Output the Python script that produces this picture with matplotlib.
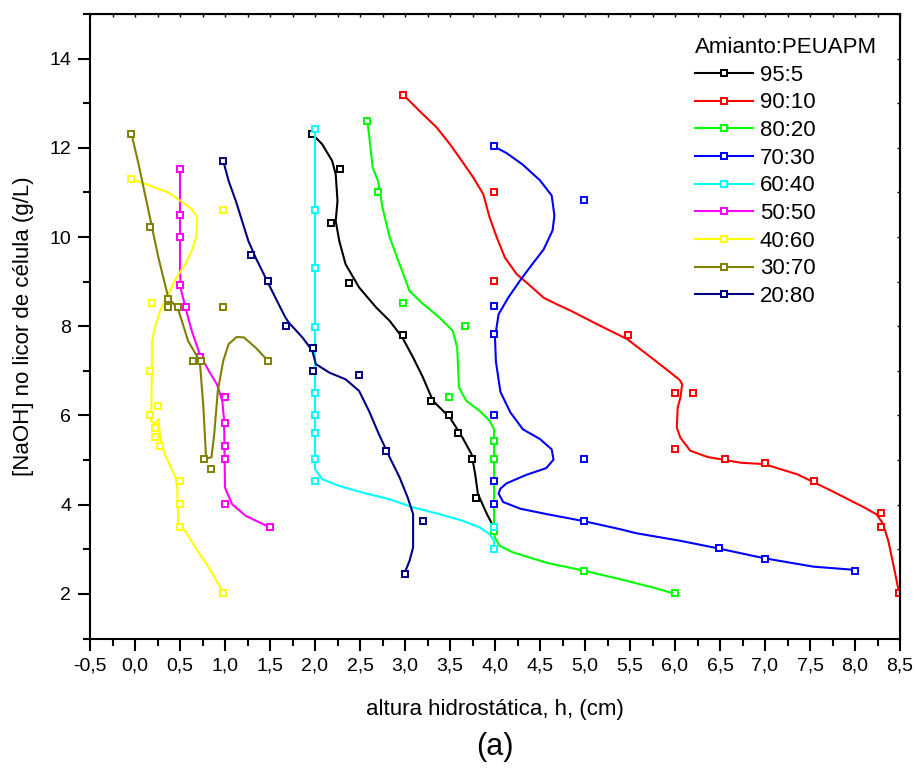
import matplotlib
matplotlib.use("Agg")
import matplotlib.pyplot as plt
from matplotlib.lines import Line2D
from matplotlib.ticker import MultipleLocator, FuncFormatter

plt.rcParams['font.family'] = ['Liberation Sans', 'DejaVu Sans']

series_names = ["95:5", "90:10", "80:20", "70:30", "60:40", "50:50", "40:60", "30:70", "20:80"]
series_colors = ["#000000", "#FF0000", "#00FF00", "#0000FF", "#00FFFF",
                 "#FF00FF", "#FFFF00", "#808000", "#000080"]

# measured points (altura h in cm, [NaOH] in g/L)
pts_95_5_h = [1.97, 2.28, 2.18, 2.38, 2.98, 3.29, 3.49, 3.59, 3.74, 3.79]
pts_95_5_c = [12.31, 11.52, 10.31, 8.97, 7.80, 6.33, 6.01, 5.60, 5.02, 4.16]
pts_90_10_h = [2.98, 3.99, 3.99, 5.48, 6.0, 6.2, 6.0, 6.56, 7.0, 7.54, 8.29, 8.29, 8.49]
pts_90_10_c = [13.19, 11.01, 9.02, 7.80, 6.50, 6.50, 5.24, 5.02, 4.93, 4.52, 3.81, 3.49, 2.02]
pts_80_20_h = [2.58, 2.70, 2.98, 3.67, 3.49, 3.99, 3.99, 3.99, 4.99, 6.0]
pts_80_20_c = [12.61, 11.01, 8.52, 8.0, 6.42, 5.43, 5.02, 3.41, 2.52, 2.02]
pts_70_30_h = [3.99, 4.99, 3.99, 3.99, 3.99, 4.99, 3.99, 3.99, 4.99, 6.49, 7.0, 8.0]
pts_70_30_c = [12.04, 10.82, 8.45, 7.82, 6.02, 5.02, 4.52, 4.02, 3.63, 3.02, 2.79, 2.52]
pts_60_40_h = [2.0, 2.0, 2.0, 2.0, 2.0, 2.0, 2.0, 2.0, 2.0, 3.99, 3.99]
pts_60_40_c = [12.42, 10.61, 9.30, 7.99, 6.50, 6.01, 5.60, 5.02, 4.53, 3.50, 3.0]
pts_50_50_h = [0.5, 0.5, 0.5, 0.5, 0.57, 0.72, 1.0, 1.0, 1.0, 1.0, 1.0, 1.5]
pts_50_50_c = [11.52, 10.49, 10.0, 8.93, 8.43, 7.31, 6.42, 5.83, 5.32, 5.02, 4.01, 3.50]
pts_40_60_h = [-0.04, 0.98, 0.19, 0.17, 0.26, 0.17, 0.22, 0.22, 0.28, 0.5, 0.5, 0.5, 0.98]
pts_40_60_c = [11.30, 10.61, 8.52, 7.0, 6.22, 6.01, 5.73, 5.52, 5.32, 4.53, 4.01, 3.50, 2.03]
pts_30_70_h = [-0.04, 0.17, 0.37, 0.37, 0.48, 0.98, 0.64, 0.73, 0.77, 0.84, 1.48]
pts_30_70_c = [12.32, 10.23, 8.61, 8.43, 8.43, 8.43, 7.22, 7.22, 5.02, 4.80, 7.22]
pts_20_80_h = [0.98, 1.29, 1.48, 1.68, 1.98, 1.98, 2.49, 2.79, 3.2, 3.0]
pts_20_80_c = [11.71, 9.60, 9.02, 8.01, 7.51, 7.0, 6.90, 5.21, 3.64, 2.44]

# smoothed trend curves
fit_95_5_h = [1.97, 2.08, 2.19, 2.23, 2.25, 2.23, 2.27, 2.34, 2.49, 2.68, 2.83, 2.97, 3.09,
              3.20, 3.31, 3.50, 3.64, 3.74, 3.78, 3.81, 3.91, 3.98]
fit_95_5_c = [12.31, 12.08, 11.71, 11.41, 10.81, 10.36, 9.91, 9.39, 8.87, 8.42, 8.12, 7.75, 7.30,
              6.85, 6.33, 5.95, 5.50, 5.13, 4.68, 4.24, 3.79, 3.52]
fit_90_10_h = [2.98, 3.18, 3.35, 3.50, 3.63, 3.76, 3.87, 3.94, 4.02, 4.11, 4.24, 4.39, 4.54,
               4.70, 4.84, 5.13, 5.47, 5.76, 5.95, 6.05, 6.08, 6.06, 6.03, 6.02, 6.06, 6.17,
               6.36, 6.73, 6.99, 7.36, 7.74, 8.11, 8.24, 8.31, 8.37, 8.44, 8.49]
fit_90_10_c = [13.19, 12.79, 12.46, 12.08, 11.71, 11.33, 10.96, 10.44, 9.99, 9.54, 9.17, 8.91, 8.64,
               8.48, 8.35, 8.05, 7.71, 7.26, 6.96, 6.80, 6.70, 6.40, 6.18, 5.73, 5.50, 5.21,
               5.07, 4.94, 4.91, 4.68, 4.31, 3.93, 3.78, 3.58, 3.19, 2.52, 2.02]
fit_80_20_h = [2.58, 2.60, 2.64, 2.70, 2.75, 2.83, 2.94, 3.05, 3.20, 3.38, 3.53, 3.58, 3.60,
               3.68, 3.83, 3.94, 3.99, 3.99, 4.0, 4.05, 4.20, 4.57, 4.99, 5.39, 5.76, 6.0]
fit_80_20_c = [12.61, 12.31, 11.56, 11.26, 10.66, 9.99, 9.39, 8.79, 8.50, 8.20, 7.90, 7.52, 6.63,
               6.33, 6.10, 5.88, 5.69, 3.34, 3.26, 3.08, 2.93, 2.70, 2.52, 2.33, 2.14, 2.0]
fit_70_30_h = [3.99, 4.13, 4.31, 4.50, 4.63, 4.66, 4.64, 4.54, 4.41, 4.28, 4.15, 4.04, 4.0, 4.01,
               4.06, 4.17, 4.31, 4.50, 4.63, 4.65, 4.57, 4.35, 4.13, 4.06, 4.04, 4.09, 4.28, 4.57,
               4.99, 5.39, 5.57, 6.06, 6.48, 6.99, 7.54, 7.99]
fit_70_30_c = [12.03, 11.88, 11.62, 11.27, 10.93, 10.48, 10.15, 9.72, 9.38, 9.03, 8.65, 8.27, 7.74,
               7.21, 6.53, 6.07, 5.69, 5.47, 5.24, 5.01, 4.82, 4.67, 4.48, 4.36, 4.25, 4.06, 3.91,
               3.79, 3.63, 3.45, 3.36, 3.19, 3.02, 2.80, 2.61, 2.54]
fit_60_40_h = [2.0, 2.0, 2.08, 2.27, 2.53, 2.83, 3.09, 3.38, 3.64, 3.83, 3.94, 3.99, 3.99]
fit_60_40_c = [12.42, 4.80, 4.57, 4.42, 4.27, 4.12, 3.94, 3.79, 3.64, 3.49, 3.34, 3.19, 3.0]
fit_50_50_h = [0.5, 0.5, 0.51, 0.56, 0.63, 0.72, 0.82, 0.91, 0.97, 0.99, 1.0, 1.08, 1.23, 1.49]
fit_50_50_c = [11.52, 9.24, 8.83, 8.42, 7.90, 7.37, 7.0, 6.70, 6.33, 5.88, 4.38, 4.01, 3.75, 3.50]
fit_40_60_h = [-0.04, 0.07, 0.22, 0.37, 0.48, 0.63, 0.69, 0.68, 0.63, 0.56, 0.46, 0.37, 0.28,
               0.22, 0.19, 0.18, 0.22, 0.26, 0.28, 0.33, 0.45, 0.47, 0.48, 0.56, 0.67, 0.82, 0.98]
fit_40_60_c = [11.30, 11.22, 11.11, 11.0, 10.85, 10.63, 10.44, 9.99, 9.69, 9.39, 9.09, 8.72, 8.35,
               7.97, 7.67, 5.88, 5.80, 5.92, 5.50, 5.13, 4.61, 4.38, 3.56, 3.41, 3.04, 2.59, 2.03]
fit_30_70_h = [-0.04, 0.04, 0.15, 0.26, 0.37, 0.48, 0.59, 0.72, 0.76, 0.79, 0.85, 0.88, 0.92,
               0.98, 1.04, 1.13, 1.21, 1.34, 1.48]
fit_30_70_c = [12.32, 11.63, 10.59, 9.54, 8.64, 8.38, 7.67, 7.22, 6.18, 5.04, 5.06, 5.58, 6.55,
               7.22, 7.60, 7.76, 7.75, 7.52, 7.22]
fit_20_80_h = [0.98, 1.04, 1.12, 1.19, 1.26, 1.34, 1.45, 1.56, 1.67, 1.71, 1.86, 1.97, 2.01,
               2.16, 2.34, 2.49, 2.60, 2.71, 2.83, 2.94, 3.03, 3.09, 3.09, 3.05, 2.99]
fit_20_80_c = [11.71, 11.26, 10.81, 10.36, 9.91, 9.54, 9.09, 8.64, 8.20, 8.08, 7.75, 7.45, 7.15,
               6.96, 6.81, 6.55, 6.10, 5.58, 5.06, 4.61, 4.16, 3.79, 3.04, 2.74, 2.44]

points = [(pts_95_5_h, pts_95_5_c), (pts_90_10_h, pts_90_10_c), (pts_80_20_h, pts_80_20_c),
          (pts_70_30_h, pts_70_30_c), (pts_60_40_h, pts_60_40_c), (pts_50_50_h, pts_50_50_c),
          (pts_40_60_h, pts_40_60_c), (pts_30_70_h, pts_30_70_c), (pts_20_80_h, pts_20_80_c)]
fits = [(fit_95_5_h, fit_95_5_c), (fit_90_10_h, fit_90_10_c), (fit_80_20_h, fit_80_20_c),
        (fit_70_30_h, fit_70_30_c), (fit_60_40_h, fit_60_40_c), (fit_50_50_h, fit_50_50_c),
        (fit_40_60_h, fit_40_60_c), (fit_30_70_h, fit_30_70_c), (fit_20_80_h, fit_20_80_c)]

fig = plt.figure(figsize=(9.16, 7.73), dpi=100)
ax = fig.add_axes([90 / 916, 1 - 638.5 / 773, 810 / 916, 624.5 / 773])

for (fh, fc), (ph, pc), col in zip(fits, points, series_colors):
    ax.plot(fh, fc, color=col, lw=1.5, solid_joinstyle='round')
    ax.plot(ph, pc, ls='none', marker='s', ms=4.5, mew=1.4, mec=col, mfc='white')

ax.set_xlim(-0.5, 8.5)
ax.set_ylim(1, 15)
ax.xaxis.set_major_locator(MultipleLocator(0.5))
ax.xaxis.set_minor_locator(MultipleLocator(0.25))
ax.yaxis.set_minor_locator(MultipleLocator(1))
ax.set_yticks([2, 4, 6, 8, 10, 12, 14])
ax.xaxis.set_major_formatter(FuncFormatter(lambda v, p: f"{v:.1f}".replace('.', ',')))
ax.yaxis.set_major_formatter(FuncFormatter(lambda v, p: f"{v:.0f}"))

for s in ax.spines.values():
    s.set_linewidth(1.5)
ax.tick_params(which='major', direction='out', length=8.5, width=1.5, labelsize=14, pad=5)
ax.tick_params(which='minor', direction='out', length=5, width=1.5)

top = ax.secondary_xaxis('top')
top.xaxis.set_major_locator(MultipleLocator(0.25))
top.tick_params(direction='in', length=2.5, width=1, labeltop=False)
right = ax.secondary_yaxis('right')
right.yaxis.set_major_locator(MultipleLocator(1))
right.tick_params(direction='in', length=2.5, width=1, labelright=False)

ax.set_xlabel("altura hidrostática, h, (cm)", fontsize=16, labelpad=18)
ax.set_ylabel("[NaOH] no licor de célula (g/L)", fontsize=16, labelpad=11)
fig.text(495 / 916, 1 - 747 / 773, "(a)", fontsize=22, ha='center', va='center')

handles = [Line2D([], [], color=c, lw=1.5, marker='s', ms=4.5, mew=1.4, mfc='white', mec=c)
           for c in series_colors]
leg = ax.legend(handles, series_names, title="Amianto:PEUAPM", loc='upper left',
                bbox_to_anchor=(0.728, 0.988), frameon=False, fontsize=16, title_fontsize=16,
                handlelength=2.6, handletextpad=0.3, labelspacing=0.3, borderpad=0.2)
leg._legend_box.align = "left"

fig.savefig("out.png", dpi=100)
